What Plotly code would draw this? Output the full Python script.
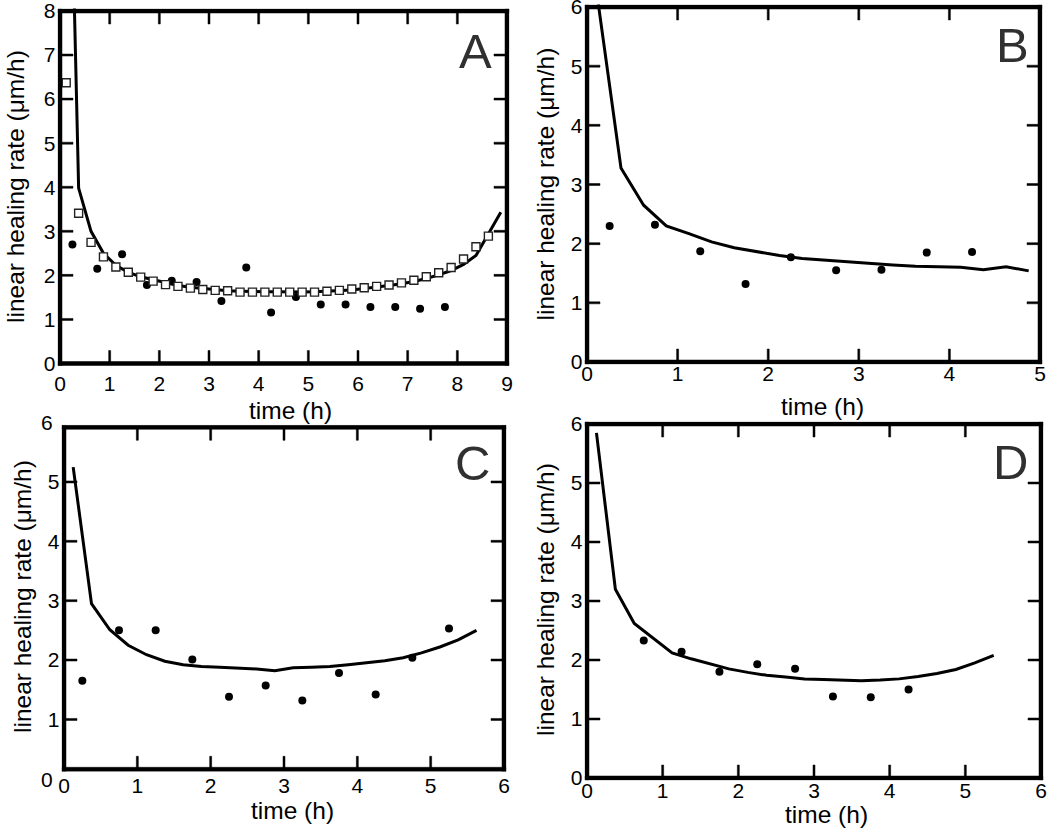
import plotly.graph_objects as go

# ---------------- data ----------------
# Panel A
a_sq_x = [0.125, 0.375, 0.625, 0.875, 1.125, 1.375, 1.625, 1.875, 2.125, 2.375, 2.625, 2.875,
          3.125, 3.375, 3.625, 3.875, 4.125, 4.375, 4.625, 4.875, 5.125, 5.375, 5.625, 5.875,
          6.125, 6.375, 6.625, 6.875, 7.125, 7.375, 7.625, 7.875, 8.125, 8.375, 8.625]
a_sq_y = [6.37, 3.41, 2.75, 2.42, 2.19, 2.07, 1.96, 1.87, 1.79, 1.75, 1.71, 1.68,
          1.66, 1.65, 1.62, 1.62, 1.62, 1.62, 1.62, 1.62, 1.62, 1.64, 1.66, 1.69,
          1.72, 1.75, 1.78, 1.83, 1.89, 1.97, 2.06, 2.18, 2.37, 2.65, 2.89]
a_dot_x = [0.25, 0.75, 1.25, 1.75, 2.25, 2.75, 3.25, 3.75, 4.25, 4.75, 5.25, 5.75, 6.25, 6.75, 7.25, 7.75]
a_dot_y = [2.70, 2.15, 2.48, 1.78, 1.88, 1.85, 1.42, 2.18, 1.16, 1.51, 1.34, 1.34, 1.28, 1.28, 1.24, 1.28]
a_line_x = [0.125, 0.375, 0.625, 0.875, 1.125, 1.375, 1.625, 1.875, 2.125, 2.375, 2.625, 2.875,
            3.125, 3.375, 3.625, 3.875, 4.125, 4.375, 4.625, 4.875, 5.125, 5.375, 5.625, 5.875,
            6.125, 6.375, 6.625, 6.875, 7.125, 7.375, 7.625, 7.875, 8.125, 8.375, 8.625, 8.875]
a_line_y = [16.0, 3.98, 3.00, 2.50, 2.23, 2.07, 1.97, 1.90, 1.83, 1.77, 1.73, 1.70,
            1.67, 1.65, 1.64, 1.63, 1.63, 1.63, 1.62, 1.62, 1.63, 1.64, 1.65, 1.67,
            1.70, 1.73, 1.77, 1.81, 1.86, 1.93, 2.01, 2.11, 2.25, 2.45, 2.93, 3.43]

# Panel B
b_dot_x = [0.25, 0.75, 1.25, 1.75, 2.25, 2.75, 3.25, 3.75, 4.25]
b_dot_y = [2.30, 2.32, 1.87, 1.32, 1.77, 1.55, 1.56, 1.85, 1.86]
b_line_x = [0.125, 0.375, 0.625, 0.875, 1.125, 1.375, 1.625, 1.875, 2.125, 2.375,
            2.625, 2.875, 3.125, 3.375, 3.625, 3.875, 4.125, 4.375, 4.625, 4.875]
b_line_y = [6.05, 3.28, 2.65, 2.30, 2.17, 2.03, 1.93, 1.86, 1.80, 1.75,
            1.72, 1.69, 1.66, 1.64, 1.62, 1.61, 1.60, 1.56, 1.61, 1.54]

# Panel C
c_dot_x = [0.25, 0.75, 1.25, 1.75, 2.25, 2.75, 3.25, 3.75, 4.25, 4.75, 5.25]
c_dot_y = [1.65, 2.50, 2.50, 2.01, 1.38, 1.57, 1.32, 1.78, 1.42, 2.04, 2.53]
c_line_x = [0.125, 0.375, 0.625, 0.875, 1.125, 1.375, 1.625, 1.875, 2.125, 2.375, 2.625, 2.875,
            3.125, 3.375, 3.625, 3.875, 4.125, 4.375, 4.625, 4.875, 5.125, 5.375, 5.625]
c_line_y = [5.25, 2.95, 2.51, 2.25, 2.09, 1.98, 1.92, 1.89, 1.88, 1.87, 1.85, 1.82,
            1.87, 1.88, 1.89, 1.92, 1.95, 1.99, 2.04, 2.12, 2.22, 2.34, 2.50]

# Panel D
d_dot_x = [0.75, 1.25, 1.75, 2.25, 2.75, 3.25, 3.75, 4.25]
d_dot_y = [2.33, 2.14, 1.80, 1.93, 1.85, 1.38, 1.37, 1.50]
d_line_x = [0.125, 0.375, 0.625, 0.875, 1.125, 1.375, 1.625, 1.875, 2.125, 2.375, 2.625,
            2.875, 3.125, 3.375, 3.625, 3.875, 4.125, 4.375, 4.625, 4.875, 5.125, 5.375]
d_line_y = [5.85, 3.20, 2.62, 2.37, 2.12, 2.02, 1.93, 1.85, 1.79, 1.74, 1.71,
            1.68, 1.67, 1.655, 1.65, 1.66, 1.68, 1.72, 1.77, 1.84, 1.95, 2.08]

# axis ranges and tick values
a_xrange, a_yrange = [0, 9], [0, 8]
b_xrange, b_yrange = [0, 5], [0, 6]
c_xrange, c_yrange = [0, 6], [0.16, 5.92]
d_xrange, d_yrange = [0, 6], [0, 6]
a_xticks = [0, 1, 2, 3, 4, 5, 6, 7, 8, 9]
a_yticks = [0, 1, 2, 3, 4, 5, 6, 7, 8]
b_xticks = [0, 1, 2, 3, 4, 5]
b_yticks = [0, 1, 2, 3, 4, 5, 6]
c_xticks = [0, 1, 2, 3, 4, 5, 6]
c_yticks = [1, 2, 3, 4, 5]
d_xticks = [0, 1, 2, 3, 4, 5, 6]
d_yticks = [0, 1, 2, 3, 4, 5, 6]

panel_labels = ["A", "B", "C", "D"]
x_title = "time (h)"
y_title = "linear healing rate (μm/h)"

# ---------------- layout helpers ----------------
W, H = 1050, 835
FONT = "Liberation Sans, Arial, sans-serif"
PAD = 2.5      # extra px around each plot area so the frame is not clipped
HT = 2.0       # half thickness of the frame
TICK = 13      # tick length (px)
TW = 1.0       # half width of a tick


def clamp(v):
    return max(0.0, min(1.0, v))


def fx(p):
    return p / W


def fy(p):
    return 1 - p / H


fig = go.Figure()

dot_marker = dict(symbol="circle", size=8, color="black")
line_style = dict(color="black", width=3)


def add_panel(n, lx, ly, dx, dy):
    xa = "x" if n == 1 else f"x{n}"
    ya = "y" if n == 1 else f"y{n}"
    fig.add_trace(go.Scatter(x=lx, y=ly, mode="lines", line=line_style,
                             xaxis=xa, yaxis=ya, showlegend=False, hoverinfo="skip"))
    fig.add_trace(go.Scatter(x=dx, y=dy, mode="markers", marker=dot_marker,
                             xaxis=xa, yaxis=ya, showlegend=False))


add_panel(1, a_line_x, a_line_y, a_dot_x, a_dot_y)
fig.add_trace(go.Scatter(x=a_sq_x, y=a_sq_y, mode="markers",
                         marker=dict(symbol="square", size=8, color="white",
                                     line=dict(color="#222222", width=1.4)),
                         xaxis="x", yaxis="y", showlegend=False))
add_panel(2, b_line_x, b_line_y, b_dot_x, b_dot_y)
add_panel(3, c_line_x, c_line_y, c_dot_x, c_dot_y)
add_panel(4, d_line_x, d_line_y, d_dot_x, d_dot_y)

# pixel boxes in page coordinates (left, right, top, bottom)
boxes = {
    1: (60, 507, 11, 363.5),
    2: (587, 1040, 7, 362),
    3: (64, 504, 427.3, 769.3),
    4: (587, 1041, 424, 778),
}
ranges = {1: (a_xrange, a_yrange), 2: (b_xrange, b_yrange),
          3: (c_xrange, c_yrange), 4: (d_xrange, d_yrange)}
tick_sets = {1: (a_xticks, a_yticks), 2: (b_xticks, b_yticks),
             3: (c_xticks, c_yticks), 4: (d_xticks, d_yticks)}
xs_standoff = {1: 3, 2: -6, 3: -1, 4: -5}


def axis(domain, rng, tickvals, anchor, standoff):
    return dict(domain=domain, range=rng, tickmode="array", tickvals=tickvals,
                ticktext=[str(v) for v in tickvals],
                showline=False, ticks="", showgrid=False, zeroline=False, anchor=anchor,
                ticklabelstandoff=standoff, ticklabeloverflow="allow",
                tickfont=dict(family=FONT, size=21, color="black"))


lay = {}
frames = {}
for n in range(1, 5):
    l, r, t, b = boxes[n]
    (x0, x1), (y0, y1) = ranges[n]
    sx = (x1 - x0) / (r - l)
    sy = (y1 - y0) / (b - t)
    xd = [clamp(fx(l - PAD)), clamp(fx(r + PAD))]
    yd = [clamp(fy(b + PAD)), clamp(fy(t - PAD))]
    # padded ranges keep the same px-per-unit scale
    xr = [x0 - (l - W * xd[0]) * sx, x1 + (W * xd[1] - r) * sx]
    yr = [y0 - (H * (1 - yd[0]) - b) * sy, y1 + (t - H * (1 - yd[1])) * sy]
    xt, yt = tick_sets[n]
    s = "" if n == 1 else str(n)
    lay["xaxis" + s] = axis(xd, xr, xt, "y" + s, xs_standoff[n])
    lay["yaxis" + s] = axis(yd, yr, yt, "x" + s, 1)

    def X(p):
        return x0 + (p - l) * sx

    def Y(p):
        return y0 + (b - p) * sy

    px, py = [], []

    def rect(pa, pb, qa, qb):
        px.extend([X(pa), X(pb), X(pb), X(pa), X(pa), None])
        py.extend([Y(qa), Y(qa), Y(qb), Y(qb), Y(qa), None])

    tt = max(t, HT)
    # frame bands
    rect(l - HT, r + HT, b - HT, b + HT)
    rect(l - HT, r + HT, tt - HT, tt + HT)
    rect(l - HT, l + HT, tt - HT, b + HT)
    rect(r - HT, r + HT, tt - HT, b + HT)
    # inward ticks on all four sides
    for v in xt:
        if x0 < v < x1:
            p = l + (v - x0) / sx
            rect(p - TW, p + TW, b - TICK, b)
            rect(p - TW, p + TW, tt, tt + TICK)
    for v in yt:
        if y0 < v < y1:
            q = b - (v - y0) / sy
            rect(l, l + TICK, q - TW, q + TW)
            rect(r - TICK, r, q - TW, q + TW)
    frames[n] = (px, py)

fig.update_layout(
    template="none",
    width=W, height=H, margin=dict(l=0, r=0, t=0, b=0, pad=0),
    paper_bgcolor="white", plot_bgcolor="rgba(0,0,0,0)",
    font=dict(family=FONT, color="black"),
    showlegend=False, **lay,
)

for n, (px, py) in frames.items():
    s = "" if n == 1 else str(n)
    fig.add_trace(go.Scatter(x=px, y=py, mode="lines", fill="toself",
                             fillcolor="black", line=dict(color="black", width=0.5),
                             xaxis="x" + s, yaxis="y" + s,
                             showlegend=False, hoverinfo="skip"))

ann = []
# panel letters
letter_pos = [(475, 51), (1012, 45), (472, 463), (1010, 462)]
for lab, (x, y) in zip(panel_labels, letter_pos):
    ann.append(dict(text=lab, x=fx(x), y=fy(y), xref="paper", yref="paper",
                    showarrow=False, xanchor="center", yanchor="middle",
                    font=dict(family=FONT, size=49, color="#303030")))
# y titles
for x, y in [(15, 187), (545, 184.5), (22, 597), (545, 600)]:
    ann.append(dict(text=y_title, x=fx(x), y=fy(y), xref="paper", yref="paper",
                    showarrow=False, textangle=-90, xanchor="center", yanchor="middle",
                    font=dict(family=FONT, size=24.5, color="black")))
# x titles
for x, y in [(290, 410), (822, 406), (292, 810), (826, 814)]:
    ann.append(dict(text=x_title, x=fx(x), y=fy(y), xref="paper", yref="paper",
                    showarrow=False, xanchor="center", yanchor="middle",
                    font=dict(family=FONT, size=24.5, color="black")))
# panel C labels for 0 and 6 sitting outside its frame
for t, y in [("0", 779), ("6", 423)]:
    ann.append(dict(text=t, x=fx(55), y=fy(y), xref="paper", yref="paper",
                    showarrow=False, xanchor="right", yanchor="middle",
                    font=dict(family=FONT, size=21, color="black")))

fig.update_layout(annotations=ann)

fig.write_html("out.html", config={"displayModeBar": False, "staticPlot": True},
               post_script="document.body.style.margin='0';document.body.style.overflow='hidden';")
